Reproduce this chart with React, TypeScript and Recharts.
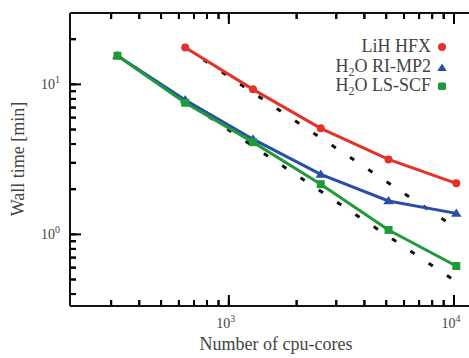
import React from 'react';
import { Legend, Line, LineChart, XAxis, YAxis } from 'recharts';

const FONT = '"Liberation Serif", "DejaVu Serif", serif';
const TEXT = '#444';
const INK = '#111';

const RED = '#e53228';
const BLUE = '#2a4ea6';
const GREEN = '#1f9a3a';

// values
const coresHfx = [640, 1280, 2560, 5120, 10240];
const timeHfx = [17.6, 9.26, 5.09, 3.16, 2.19];

const coresMp2 = [320, 640, 1280, 2560, 5120, 10240];
const timeMp2 = [15.5, 7.86, 4.31, 2.51, 1.67, 1.38];

const coresScf = [320, 640, 1280, 2560, 5120, 10240];
const timeScf = [15.5, 7.54, 4.12, 2.16, 1.07, 0.615];

// ideal-scaling guide lines (end points)
const coresIdealA = [640, 10240];
const timeIdealA = [17.6, 1.1];
const coresIdealB = [320, 10240];
const timeIdealB = [15.5, 0.484];

const xMajor = [1000, 10000];
const xTicks = [300, 400, 500, 600, 700, 800, 900, 1000, 2000, 3000, 4000, 5000, 6000, 7000, 8000, 9000, 10000];
const yMajor = [1, 10];
const yTicks = [0.4, 0.5, 0.6, 0.7, 0.8, 0.9, 1, 2, 3, 4, 5, 6, 7, 8, 9, 10, 20];

const toPoints = (xs: number[], ys: number[]) => xs.map((x, i) => ({ x, y: ys[i] }));

const hfxData = toPoints(coresHfx, timeHfx);
const mp2Data = toPoints(coresMp2, timeMp2);
const scfData = toPoints(coresScf, timeScf);
const idealAData = toPoints(coresIdealA, timeIdealA);
const idealBData = toPoints(coresIdealB, timeIdealB);

const X_DOMAIN = [197, 11660];
const Y_DOMAIN = [0.333, 29.9];

const TICK = 6; // axis tickSize (inward)
const MAJOR_LEN = 11;
const MINOR_LEN = 6;
const tickStyle = { stroke: '#000', strokeWidth: 2 };

const Power = ({ x, y, value, anchor }: any) => (
  <text x={x} y={y} textAnchor={anchor} fontFamily={FONT} fontSize={14} fill={TEXT}>
    10
    <tspan dy={-6} fontSize={10}>
      {Math.round(Math.log10(value))}
    </tspan>
  </text>
);

// tick renderers: p.x/p.y is where recharts puts the tick's inner end
const BottomTick = (p: any) => {
  const v = p.payload.value;
  const major = xMajor.includes(v);
  const base = Number(p.y) + TICK;
  return (
    <g>
      <line x1={p.x} x2={p.x} y1={base} y2={base - (major ? MAJOR_LEN : MINOR_LEN)} style={tickStyle} />
      {major && <Power x={p.x - 3} y={base + 22} value={v} anchor="middle" />}
    </g>
  );
};

const TopTick = (p: any) => {
  const major = xMajor.includes(p.payload.value);
  const base = Number(p.y) - TICK;
  return (
    <line x1={p.x} x2={p.x} y1={base} y2={base + (major ? MAJOR_LEN : MINOR_LEN)} style={tickStyle} />
  );
};

const LeftTick = (p: any) => {
  const v = p.payload.value;
  const major = yMajor.includes(v);
  const base = Number(p.x) - TICK;
  return (
    <g>
      <line x1={base} x2={base + (major ? MAJOR_LEN : MINOR_LEN)} y1={p.y} y2={p.y} style={tickStyle} />
      {major && <Power x={base - 10} y={Number(p.y) + 5} value={v} anchor="end" />}
    </g>
  );
};

const xCommon = {
  type: 'number' as const,
  dataKey: 'x',
  scale: 'log' as const,
  domain: X_DOMAIN,
  allowDataOverflow: true,
  interval: 0,
  ticks: xTicks,
  tickSize: -TICK,
  tickMargin: 0,
  tickLine: tickStyle,
};
const yCommon = {
  type: 'number' as const,
  dataKey: 'y',
  scale: 'log' as const,
  domain: Y_DOMAIN,
  allowDataOverflow: true,
  interval: 0,
  ticks: yTicks,
  tickSize: -TICK,
  tickMargin: 0,
  tickLine: tickStyle,
};
const frame = { stroke: INK, strokeWidth: 2 };

const triangle = (cx: number, cy: number, s: number) =>
  `M${cx},${cy - s} L${cx + s * 1.05},${cy + s * 0.65} L${cx - s * 1.05},${cy + s * 0.65} Z`;

const TriangleDot = (p: any) => <path key={`t${p.index}`} d={triangle(p.cx, p.cy, 5)} fill={BLUE} />;
const SquareDot = (p: any) => (
  <rect key={`s${p.index}`} x={p.cx - 4} y={p.cy - 4} width={8} height={8} fill={GREEN} />
);

const subStyle = { fontSize: 12, verticalAlign: -4, lineHeight: 0 };

const legendRows = [
  { label: <>LiH HFX</>, marker: <circle cx={5} cy={5} r={4} fill={RED} /> },
  {
    label: (
      <>
        H<sub style={subStyle}>2</sub>O RI-MP2
      </>
    ),
    marker: <path d={triangle(5, 6, 4.5)} fill={BLUE} />,
  },
  {
    label: (
      <>
        H<sub style={subStyle}>2</sub>O LS-SCF
      </>
    ),
    marker: <rect x={1} y={1.5} width={8} height={7.5} rx={1.5} fill={GREEN} />,
  },
];

const LegendBox = () => (
  <div style={{ fontFamily: FONT, fontSize: 18, color: TEXT, textAlign: 'right' }}>
    {legendRows.map((row, i) => (
      <div key={i} style={{ height: 19.5, lineHeight: '19.5px', whiteSpace: 'nowrap' }}>
        {row.label}
        <svg width={10} height={10} style={{ marginLeft: 6, verticalAlign: 0 }}>
          {row.marker}
        </svg>
      </div>
    ))}
  </div>
);

const App: React.FC = () => (
  <div style={{ position: 'absolute', left: 0, top: 0, width: 469, height: 358, background: '#fff' }}>
    <LineChart width={469} height={358} margin={{ top: 0, right: 0, bottom: 0, left: 0 }}>
      <XAxis
        {...xCommon}
        height={52}
        axisLine={frame}
        tick={BottomTick}
        label={{
          content: () => (
            <text x={276} y={350} textAnchor="middle" fontFamily={FONT} fontSize={18} fill={TEXT}>
              Number of cpu-cores
            </text>
          ),
        }}
      />
      <XAxis {...xCommon} xAxisId="top" orientation="top" height={13} axisLine={frame} tick={TopTick} />
      <YAxis
        {...yCommon}
        width={70}
        axisLine={frame}
        tick={LeftTick}
        label={{
          content: () => (
            <text
              x={24}
              y={159}
              transform="rotate(-90 24 159)"
              textAnchor="middle"
              fontFamily={FONT}
              fontSize={18}
              fill={TEXT}
            >
              Wall time [min]
            </text>
          ),
        }}
      />
      <Legend
        layout="vertical"
        align="center"
        verticalAlign="middle"
        content={() => <LegendBox />}
        wrapperStyle={{ left: 297, top: 37, width: 150 }}
      />
      <Line
        data={idealAData}
        dataKey="y"
        stroke={INK}
        strokeWidth={3}
        strokeDasharray="5 17"
        dot={false}
        isAnimationActive={false}
        legendType="none"
      />
      <Line
        data={idealBData}
        dataKey="y"
        stroke={INK}
        strokeWidth={3}
        strokeDasharray="5 17"
        dot={false}
        isAnimationActive={false}
        legendType="none"
      />
      <Line
        data={hfxData}
        dataKey="y"
        stroke={RED}
        strokeWidth={3}
        dot={{ r: 4, fill: RED, stroke: RED, strokeWidth: 0 }}
        isAnimationActive={false}
      />
      <Line data={mp2Data} dataKey="y" stroke={BLUE} strokeWidth={3} dot={TriangleDot} isAnimationActive={false} />
      <Line data={scfData} dataKey="y" stroke={GREEN} strokeWidth={3} dot={SquareDot} isAnimationActive={false} />
    </LineChart>
  </div>
);

export default App;
